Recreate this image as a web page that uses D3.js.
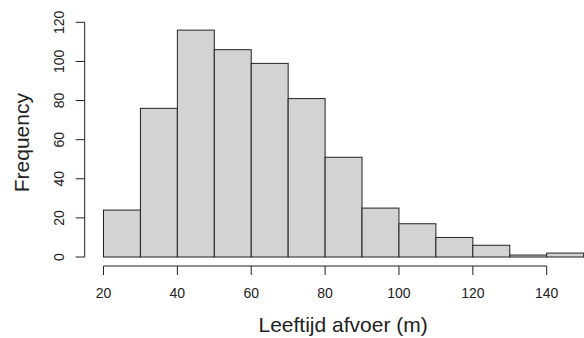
<!DOCTYPE html>
<html lang="en">
<head>
<meta charset="utf-8">
<script src="https://cdn.jsdelivr.net/npm/d3@7"></script>
<style>
  body { margin: 0; background: #fff; }
  text { font-family: "Liberation Sans", Arial, sans-serif; fill: #222; }
</style>
</head>
<body>
<script>
// histogram bins (lower edges, width 10) and counts
var binStarts = [20, 30, 40, 50, 60, 70, 80, 90, 100, 110, 120, 130, 140]
var counts = [24, 76, 116, 106, 99, 81, 51, 25, 17, 10, 6, 1, 2]
var binWidth = 10
var xTicks = [20, 40, 60, 80, 100, 120, 140]
var yTicks = [0, 20, 40, 60, 80, 100, 120]
var xTitle = "Leeftijd afvoer (m)"
var yTitle = "Frequency"

var w = 584, h = 338

var svg = d3.select("body").append("svg").attr("width", w).attr("height", h)

var x = d3.scaleLinear().domain([20, 140]).range([103.5, 546.7])
var y = d3.scaleLinear().domain([0, 120]).range([257, 22.3])

svg.selectAll("rect")
  .data(counts)
  .enter()
  .append("rect")
  .attr("x", function(d, i) { return x(binStarts[i]) })
  .attr("y", function(d) { return y(d) })
  .attr("width", x(binWidth) - x(0))
  .attr("height", function(d) { return y(0) - y(d) })
  .attr("fill", "#d3d3d3")
  .attr("stroke", "#222")
  .attr("stroke-width", 1)

// x axis (R style: detached below plot)
var xa = svg.append("g").attr("transform", "translate(0,266)")
xa.append("line")
  .attr("x1", x(20)).attr("x2", x(140))
  .attr("stroke", "#222")
xa.selectAll(".xt")
  .data(xTicks)
  .enter()
  .append("line")
  .attr("x1", function(d) { return x(d) }).attr("x2", function(d) { return x(d) })
  .attr("y1", 0).attr("y2", 9)
  .attr("stroke", "#222")
xa.selectAll(".xl")
  .data(xTicks)
  .enter()
  .append("text")
  .attr("x", function(d) { return x(d) })
  .attr("y", 32)
  .attr("text-anchor", "middle")
  .attr("font-size", "14px")
  .text(function(d) { return d })

// y axis
var ya = svg.append("g").attr("transform", "translate(84.7,0)")
ya.append("line")
  .attr("y1", y(0)).attr("y2", y(120))
  .attr("stroke", "#222")
ya.selectAll(".yt")
  .data(yTicks)
  .enter()
  .append("line")
  .attr("y1", function(d) { return y(d) }).attr("y2", function(d) { return y(d) })
  .attr("x1", 0).attr("x2", -9)
  .attr("stroke", "#222")
ya.selectAll(".yl")
  .data(yTicks)
  .enter()
  .append("text")
  .attr("transform", function(d) { return "translate(-21," + y(d) + ") rotate(-90)" })
  .attr("text-anchor", "middle")
  .attr("font-size", "14px")
  .text(function(d) { return d })

svg.append("text")
  .attr("x", (x(20) + x(140)) / 2 + 18)
  .attr("y", 332)
  .attr("text-anchor", "middle")
  .attr("font-size", "21px")
  .text(xTitle)

svg.append("text")
  .attr("transform", "translate(29," + ((y(0) + y(120)) / 2 + 3) + ") rotate(-90)")
  .attr("text-anchor", "middle")
  .attr("font-size", "21px")
  .text(yTitle)
</script>
</body>
</html>
